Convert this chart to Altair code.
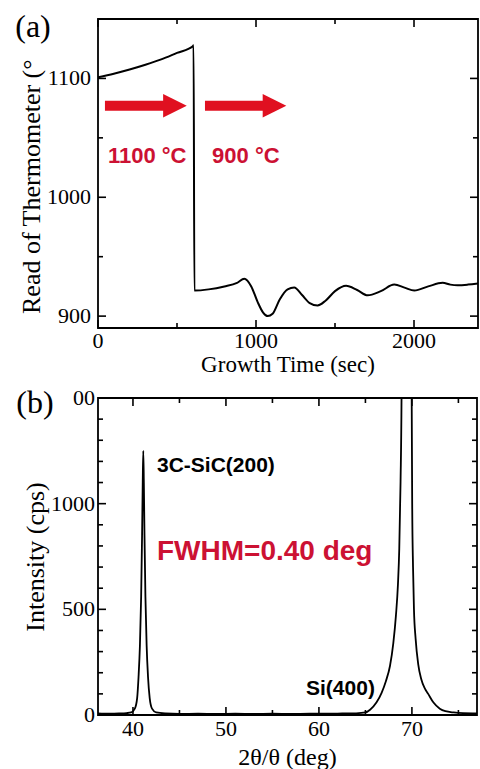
import altair as alt
import pandas as pd

# ---------------- data: panel (a) thermometer reading ----------------
time_s = [0, 100, 200, 300, 400, 500, 600, 605, 610, 700, 800, 880, 926, 970,
          1010, 1045, 1074, 1105, 1150, 1200, 1242, 1290, 1340, 1390, 1440,
          1500, 1570, 1640, 1707, 1790, 1875, 1940, 2002, 2090, 2181, 2230,
          2276, 2340, 2405]
thermo_c = [1101, 1104, 1107.5, 1111.5, 1116, 1121.5, 1127, 1128, 921.5, 922.5,
            925, 928, 931.5, 925, 912, 903, 900, 902, 914, 922.5, 924, 918, 911,
            909, 913, 921, 925.5, 922, 917.5, 921, 926.5, 924, 921.5, 925, 928,
            926.5, 926, 926.5, 927.5]

# ---------------- data: panel (b) XRD scan ----------------
two_theta_deg = [36.24, 37.5, 38.5, 39.3, 39.8, 40.2, 40.45, 40.6, 40.75, 40.88,
                 40.98, 41.05, 41.11, 41.17, 41.24, 41.34, 41.47, 41.62, 41.8,
                 42.05, 42.5, 43.5, 45, 47, 49, 51, 53, 55, 57, 59, 61, 62.5,
                 64.0, 65.0, 65.5, 66.2, 66.74, 67.2, 67.64, 68.0, 68.28, 68.5,
                 68.64, 68.78, 68.89, 68.95, 69.45, 69.92, 69.97, 70.03, 70.12,
                 70.22, 70.4, 70.68, 71.0, 71.4, 71.75, 72.3, 73.0, 73.6, 74.5,
                 75.5, 77.0]
intensity_cps = [8, 6, 7, 9, 12, 30, 80, 180, 330, 560,
                 850, 1100, 1250, 1100, 850, 560, 330, 180, 80,
                 30, 12, 7, 5, 6, 5, 6, 5, 6, 5, 6, 6, 7,
                 8, 12, 25, 60, 105, 160, 232, 340, 470, 620,
                 787, 1105, 1550, 2500, 5000, 2500, 1550, 1000, 700,
                 500, 360, 240, 170, 125, 100, 60, 30, 18, 12,
                 9, 8]

# tick values and tick labels
a_x_major = [0, 1000, 2000]
a_x_labels = ["0", "1000", "2000"]
a_x_minor = [500, 1500]
a_y_major = [900, 1000, 1100]
a_y_labels = ["900", "1000", "1100"]
a_y_minor = [950, 1050]
b_x_major = [40, 50, 60, 70]
b_x_labels = ["40", "50", "60", "70"]
b_x_minor = [45, 55, 65, 75]
b_y_major = [0, 500, 1000, 1500]
b_y_labels = ["0", "500", "1000", "00"]
b_y_minor = [100, 200, 300, 400, 600, 700, 800, 900, 1100, 1200, 1300, 1400]

# annotations (data coordinates)
arrow_start = [44, 677]
arrow_head = [487, 1117]
arrow_level = [1077, 1077]
temp_labels = ["1100 °C", "900 °C"]
temp_label_x = [63, 722]
temp_label_y = [1029, 1029]

SERIF = "Liberation Serif"
SANS = "Liberation Sans"
RED_TEXT = "#cc1133"
RED_ARROW = "#e01020"
MAJOR_LEN = 8
MINOR_LEN = 5


def panel(df, xf, yf, xdom, ydom, ticks, lab, titles, width, height, sw, extras_fn):
    xs = alt.Scale(domain=xdom, nice=False, zero=False)
    ys = alt.Scale(domain=ydom, nice=False, zero=False)
    xmaj, xlab, xmin, ymaj, ylab, ymin = ticks
    line = alt.Chart(df).mark_line(color="black", strokeWidth=sw, clip=True,
                                   interpolate="monotone").encode(
        x=alt.X(f"{xf}:Q", scale=xs, axis=None),
        y=alt.Y(f"{yf}:Q", scale=ys, axis=None))
    layers = [line]
    # inward ticks on all four sides, drawn as rules in data units
    ux = (xdom[1] - xdom[0]) / width
    uy = (ydom[1] - ydom[0]) / height
    xt_rows, yt_rows = [], []
    for vals, ln in ((xmaj, MAJOR_LEN), (xmin, MINOR_LEN)):
        for v in vals:
            xt_rows.append({"v": v, "a": ydom[0], "b": ydom[0] + ln * uy})
            xt_rows.append({"v": v, "a": ydom[1], "b": ydom[1] - ln * uy})
    for vals, ln in ((ymaj, MAJOR_LEN), (ymin, MINOR_LEN)):
        for v in vals:
            yt_rows.append({"v": v, "a": xdom[0], "b": xdom[0] + ln * ux})
            yt_rows.append({"v": v, "a": xdom[1], "b": xdom[1] - ln * ux})
    layers.append(alt.Chart(pd.DataFrame(xt_rows)).mark_rule(
        color="black", strokeWidth=1.6, strokeCap="butt").encode(
        x=alt.X("v:Q", scale=xs, axis=None),
        y=alt.Y("a:Q", scale=ys, axis=None), y2="b:Q"))
    layers.append(alt.Chart(pd.DataFrame(yt_rows)).mark_rule(
        color="black", strokeWidth=1.6, strokeCap="butt").encode(
        y=alt.Y("v:Q", scale=ys, axis=None),
        x=alt.X("a:Q", scale=xs, axis=None), x2="b:Q"))
    # tick labels placed through the scales
    xpad, ypad = lab
    layers.append(alt.Chart(pd.DataFrame({"v": xmaj, "s": xlab})).mark_text(
        font=SERIF, fontSize=22, color="black", align="center", baseline="top").encode(
        x=alt.X("v:Q", scale=xs, axis=None), y=alt.value(height + xpad), text="s:N"))
    layers.append(alt.Chart(pd.DataFrame({"v": ymaj, "s": ylab})).mark_text(
        font=SERIF, fontSize=22, color="black", align="right", baseline="middle").encode(
        y=alt.Y("v:Q", scale=ys, axis=None), x=alt.value(-ypad), text="s:N"))
    # axis titles
    (xt, xty, xfs), (yt, ytx, yty, yalign, yfs) = titles
    layers.append(alt.Chart(pd.DataFrame({"s": [xt]})).mark_text(
        font=SERIF, fontSize=xfs, color="black", align="center", baseline="alphabetic").encode(
        x=alt.value(width / 2), y=alt.value(height + xty), text="s:N"))
    layers.append(alt.Chart(pd.DataFrame({"s": [yt]})).mark_text(
        font=SERIF, fontSize=yfs, color="black", align=yalign, baseline="middle",
        angle=270).encode(
        x=alt.value(ytx), y=alt.value(yty), text="s:N"))
    layers += extras_fn(xs, ys)
    return alt.layer(*layers).properties(width=width, height=height)


def text_layer(xs, ys, xv, yv, s, font, size, weight, color, align):
    d = pd.DataFrame({"x": xv, "y": yv, "s": s})
    return alt.Chart(d).mark_text(font=font, fontSize=size, fontWeight=weight,
                                  color=color, align=align, baseline="alphabetic").encode(
        x=alt.X("x:Q", scale=xs, axis=None), y=alt.Y("y:Q", scale=ys, axis=None), text="s:N")


def panel_label(s, px, py):
    return alt.Chart(pd.DataFrame({"s": [s]})).mark_text(
        font=SERIF, fontSize=32, color="black", align="center", baseline="middle").encode(
        x=alt.value(px), y=alt.value(py), text="s:N")


def extras_a(xs, ys):
    d = pd.DataFrame({"x0": arrow_start, "x1": arrow_head, "y": arrow_level})
    shaft = alt.Chart(d).mark_rule(color=RED_ARROW, strokeWidth=10, strokeCap="butt").encode(
        x=alt.X("x0:Q", scale=xs, axis=None), x2="x1:Q", y=alt.Y("y:Q", scale=ys, axis=None))
    tip = alt.Chart(d).mark_point(shape="M-1,-1L1,0L-1,1Z", size=560, filled=True,
                                  color=RED_ARROW, opacity=1, strokeWidth=0).encode(
        x=alt.X("x1:Q", scale=xs, axis=None), y=alt.Y("y:Q", scale=ys, axis=None))
    return [shaft, tip,
            text_layer(xs, ys, temp_label_x, temp_label_y, temp_labels, SANS, 22, "bold",
                       RED_TEXT, "left"),
            panel_label("(a)", -65, 8)]


def extras_b(xs, ys):
    return [text_layer(xs, ys, [42.58], [1149], ["3C-SiC(200)"], SANS, 21, "bold", "black", "left"),
            text_layer(xs, ys, [42.58], [733], ["FWHM=0.40 deg"], SANS, 28, "bold", RED_TEXT, "left"),
            text_layer(xs, ys, [66.02], [95], ["Si(400)"], SANS, 21, "bold", "black", "right"),
            panel_label("(b)", -63, 5)]


# ---------------- panel (a) ----------------
dfa = pd.DataFrame({"t": time_s, "T": thermo_c})
pa = panel(dfa, "t", "T", [0, 2405], [890, 1150],
           (a_x_major, a_x_labels, a_x_minor, a_y_major, a_y_labels, a_y_minor),
           (3, 7),
           (("Growth Time (sec)", 44, 23), ("Read of Thermometer (°", -66, 295, "left", 26)),
           380, 309, 2, extras_a)

# ---------------- panel (b) ----------------
dfb = pd.DataFrame({"tt": two_theta_deg, "I": intensity_cps})
pb = panel(dfb, "tt", "I", [36.24, 77.0], [0, 1500],
           (b_x_major, b_x_labels, b_x_minor, b_y_major, b_y_labels, b_y_minor),
           (4, 3),
           (("2θ/θ (deg)", 50, 24), ("Intensity (cps)", -62, 159, "center", 26)),
           379, 317, 1.8, extras_b)

chart = alt.vconcat(pa, pb, spacing=8).properties(
    padding={"left": 14, "top": 10, "right": 0, "bottom": 0},
    background="white",
).configure_view(stroke="black", strokeWidth=1.8)

chart.save("out.html", embed_options={"renderer": "svg", "actions": False})
